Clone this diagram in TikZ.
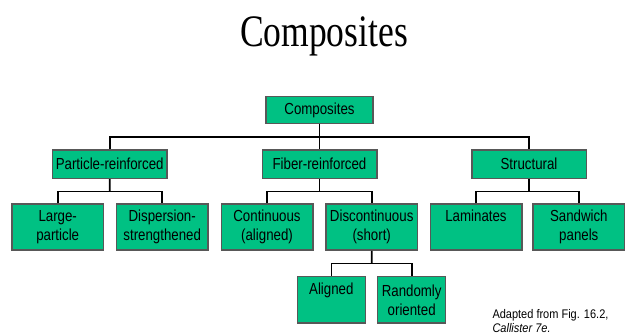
\documentclass[tikz,border=0pt]{standalone}
\usepackage{fontspec}
\setmainfont{Liberation Serif}[FakeStretch=0.79]
\newfontfamily\boxfont{Liberation Sans}[FakeStretch=0.83]
\newfontfamily\notefont{Liberation Sans}[FakeStretch=0.88]
\usetikzlibrary{calc}
\definecolor{boxgreen}{RGB}{0,193,131}
\definecolor{edgegray}{RGB}{88,88,88}
\tikzset{
  cbox/.style={draw=edgegray, fill=boxgreen, line width=1.5pt, inner sep=0pt,
    align=center, font=\boxfont\fontsize{16}{19}\selectfont},
  rootbox/.style={cbox, minimum width=107pt, minimum height=27pt},
  groupbox/.style={cbox, minimum width=114.5pt, minimum height=28.5pt},
  leafbox/.style={cbox, minimum width=91.5pt, minimum height=46pt},
  smallbox/.style={cbox, minimum width=68pt, minimum height=46.5pt},
  link/.style={line width=1.6pt, black}
}
\begin{document}
\begin{tikzpicture}[x=1pt, y=-1pt]
  \useasboundingbox (0,0) rectangle (625,336);
  \node[anchor=base] (title) at (324,46.7) {\fontsize{45}{50}\selectfont Composites};

  \node[rootbox] (comp) at (319.5,110) {Composites};

  \node[groupbox] (part) at (109.7,164.2) {Particle-reinforced};
  \node[groupbox] (fiber) at (319.5,164.2) {Fiber-reinforced};
  \node[groupbox] (struct) at (529,164.2) {Structural};

  \node[leafbox] (large) at (57.7,227.2) {Large-\\particle};
  \node[leafbox] (disp) at (162.2,227.2) {Dispersion-\\strengthened};
  \node[leafbox] (cont) at (267,227.2) {Continuous\\(aligned)};
  \node[leafbox] (disc) at (371.7,227.2) {Discontinuous\\(short)};
  \node[leafbox] (lam) at (476,227.2) {Laminates\\\vphantom{p}};
  \node[leafbox] (sand) at (578.8,227.2) {Sandwich\\panels};

  \node[smallbox] (ali) at (331.3,300) {Aligned\\\vphantom{p}};
  \node[smallbox] (rand) at (411.7,300) {Randomly\\oriented};

  \node[anchor=base west, align=left, inner sep=0pt,
    font=\notefont\fontsize{12.5}{13.5}\selectfont] (note) at (492.3,332.5)
    {Adapted from Fig. 16.2,\\\textit{Callister 7e.}};

  \foreach \p/\a/\b in {comp/part/struct, part/large/disp, fiber/cont/disc,
      struct/lam/sand, disc/ali/rand} {
    \draw[link] (\a.north) |- ($(\p.south)!.5!(\a.north)$) -| (\b.north);
    \draw[link] (\p.south) -- ($(\p.south)!.5!(\p.south |- \a.north)$);
  }
  \draw[link] (comp.south) -- (fiber.north);
\end{tikzpicture}
\end{document}
